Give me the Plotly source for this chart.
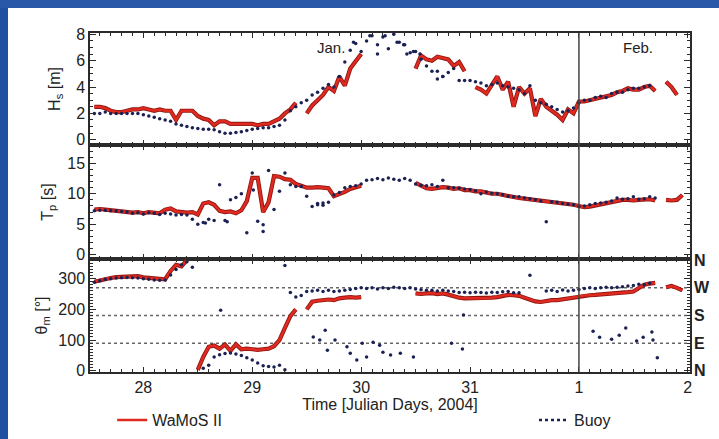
import plotly.graph_objects as go
from plotly.subplots import make_subplots

# ---------------- data (time in Julian days, 2004; 32 = 1 Feb) ----------------
T = [27.55, 27.60, 27.65, 27.70, 27.75, 27.80, 27.85, 27.90, 27.95, 28.00,
     28.05, 28.10, 28.15, 28.20, 28.25, 28.30, 28.35, 28.40, 28.45, 28.50,
     28.55, 28.60, 28.65, 28.70, 28.75, 28.80, 28.85, 28.90, 28.95, 29.00,
     29.05, 29.10, 29.15, 29.20, 29.25, 29.30, 29.35, 29.40, 29.45, 29.50,
     29.55, 29.60, 29.65, 29.70, 29.75, 29.80, 29.85, 29.90, 29.95, 30.00,
     30.05, 30.10, 30.15, 30.20, 30.25, 30.30, 30.35, 30.40, 30.45, 30.50,
     30.55, 30.60, 30.65, 30.70, 30.75, 30.80, 30.85, 30.90, 30.95, 31.00,
     31.05, 31.10, 31.15, 31.20, 31.25, 31.30, 31.35, 31.40, 31.45, 31.50,
     31.55, 31.60, 31.65, 31.70, 31.75, 31.80, 31.85, 31.90, 31.95, 32.00,
     32.05, 32.10, 32.15, 32.20, 32.25, 32.30, 32.35, 32.40, 32.45, 32.50,
     32.55, 32.60, 32.65, 32.70, 32.75, 32.80, 32.85, 32.90, 32.95]

N = None
wamos_hs = [2.5, 2.5, 2.4, 2.2, 2.1, 2.1, 2.2, 2.3, 2.3, 2.4,
            2.3, 2.2, 2.3, 2.2, 2.2, 1.5, 2.2, 2.2, 2.2, 1.8,
            1.6, 1.5, 1.1, 1.4, 1.4, 1.2, 1.2, 1.2, 1.2, 1.2,
            1.1, 1.2, 1.2, 1.4, 1.6, 2.0, 2.3, 2.8, N, 2.0,
            2.6, 3.0, 3.4, 4.0, 3.7, 4.8, 4.1, 5.4, 6.0, 6.5,
            N, N, N, N, N, N, N, N, N, 5.4,
            6.4, 6.1, 6.0, 6.3, 6.2, 6.1, 5.6, 5.9, 5.2, N,
            4.0, 3.8, 3.5, 4.1, 4.8, 3.8, 4.4, 2.5, 4.0, 3.5,
            3.9, 1.8, 3.1, 2.5, 2.2, 1.9, 1.5, 2.3, 2.0, 2.9,
            2.9, 3.0, 3.1, 3.2, 3.3, 3.4, 3.6, 3.7, 3.9, 3.8,
            3.8, 4.0, 4.1, 3.7, N, 4.4, 4.0, 3.4, N]

buoy_hs = [2.0, 2.0, 2.1, 2.0, 2.0, 2.0, 2.0, 2.0, 2.0, 1.9,
           1.8, 1.7, 1.6, 1.5, 1.4, 1.2, 1.1, 1.0, 0.9, 0.85,
           0.8, 0.8, 0.75, 0.6, 0.5, 0.5, 0.55, 0.6, 0.7, 0.8,
           0.85, 0.9, 0.9, 1.0, 1.1, 1.5, 2.2, 2.5, 2.8, 3.0,
           3.4, 3.6, 3.9, 4.2, 4.0, 4.8, 5.9, 6.8, 7.3, 6.7,
           7.5, 7.9, 7.2, 7.8, 6.9, 8.0, 7.4, 7.2, 6.6, 6.7,
           6.1, 5.6, 5.2, 4.6, 4.8, 5.1, 5.4, 4.5, 4.5, 4.5,
           4.4, 4.3, 4.1, 4.2, 4.3, 4.1, 4.0, 3.9, 3.8, 3.5,
           4.1, 3.0, 2.8, 2.7, 2.5, 2.3, 2.1, 2.2, 2.4, 2.8,
           3.0, 3.0, 3.2, 3.3, 3.2, 3.5, 3.6, 3.6, 3.8, 3.9,
           3.9, 4.0, 4.1, N, N, N, N, N, N]
buoy_hs_extra_t = [29.93, 30.08, 30.15, 30.22, 30.33, 30.39, 30.42, 30.48, 30.54, 30.70, 30.75]
buoy_hs_extra_v = [7.4, 7.9, 6.5, 7.9, 7.4, 7.2, 6.5, 6.7, 6.5, 5.2, 4.8]

wamos_tp = [7.4, 7.5, 7.4, 7.3, 7.3, 7.1, 7.0, 6.9, 7.0, 6.8,
            7.0, 6.9, 6.8, 7.4, 7.6, 7.1, 7.0, 6.9, 7.0, 6.6,
            8.4, 8.6, 8.2, 7.2, 7.0, 7.1, 6.8, 7.3, 8.8, 12.6,
            12.6, 7.0, 8.6, 12.9, 12.8, 12.4, 12.3, 11.6, 11.3, 11.0,
            11.0, 11.1, 11.0, 10.9, 9.6, 9.9, 10.3, 10.8, 11.1, 11.3,
            N, N, N, N, N, N, N, N, N, 11.8,
            11.3, 10.9, 10.8, 11.0, 11.1, 11.0, 10.8, 10.9, 10.6, 10.6,
            10.4, 10.4, 10.2, 10.0, 10.0, 9.8, 9.6, 9.5, 9.3, 9.2,
            9.1, 9.0, 8.8, 8.7, 8.6, 8.6, 8.5, 8.3, 8.2, 8.0,
            7.8, 7.9, 8.1, 8.3, 8.5, 8.7, 8.8, 9.0, 9.0, 8.9,
            9.0, 9.0, 9.1, 8.9, N, 9.0, 8.9, 9.0, 9.8]

buoy_tp = [7.2, 7.3, 7.3, 7.2, 7.2, 7.1, 7.0, 6.8, 6.9, 6.7,
           6.9, 6.8, 6.6, 6.8, 6.7, 6.5, 6.6, 6.5, 5.8, 5.0,
           5.3, 5.8, 5.6, 11.5, 5.6, 9.0, 9.4, 10.0, 3.6, 13.4,
           5.5, 3.8, 13.8, 7.4, 10.4, 13.4, 11.5, 11.2, 11.2, 9.6,
           7.9, 8.4, 8.1, 8.6, 9.8, 10.2, 11.0, 11.2, 11.3, 11.6,
           12.2, 12.3, 12.5, 12.3, 12.6, 12.4, 12.2, 12.5, 12.2, 11.6,
           11.4, 11.3, 11.5, 11.2, 12.2, 11.0, 11.0, 10.9, 10.8, 10.7,
           10.5, 10.0, 10.3, 10.1, 10.0, 9.9, 9.6, 9.5, 9.5, 9.3,
           9.2, 9.0, 8.8, 5.4, 8.7, 8.6, 8.4, 8.3, 8.2, 7.9,
           8.0, 8.2, 8.4, 8.5, 8.6, 8.8, 9.3, 9.1, 9.2, 9.5,
           9.1, 9.2, 9.5, 9.3, N, N, N, N, N]
buoy_tp_extra_t = [28.57, 28.77, 29.01, 29.10, 29.60, 29.65]
buoy_tp_extra_v = [5.2, 5.4, 10.6, 4.9, 8.2, 8.5]

wamos_dir = [290, 295, 300, 302, 305, 305, 307, 306, 308, 304,
             302, 300, 298, 298, 325, 345, 340, 360, N, 3,
             45, 78, 82, 72, 85, 65, 86, 70, 72, 70,
             68, 70, 72, 80, 100, 140, 178, 200, N, 200,
             225, 228, 230, 232, 230, 236, 238, 240, 238, 240,
             N, N, N, N, N, N, N, N, N, 252,
             250, 252, 253, 250, 252, 248, 242, 238, 236, 236,
             237, 235, 236, 238, 240, 245, 247, 246, 244, 238,
             232, 226, 224, 228, 230, 230, 233, 236, 240, 243,
             245, 246, 247, 248, 250, 252, 252, 254, 256, 258,
             270, 280, 284, 286, N, 272, 276, 270, 262]

buoy_dir = [288, 293, 298, 300, 302, 303, 304, 303, 302, 300,
            298, 296, 295, 296, 312, 330, 345, 355, 337, N,
            8, 18, 45, 52, 56, 58, 55, 50, 42, 35,
            25, 16, 14, 12, 18, 3, 255, 240, 245, 258,
            260, 262, 258, 262, 258, 260, 262, 265, 268, 270,
            268, 270, 266, 270, 268, 272, 270, 268, 270, 266,
            264, 262, 262, 260, 262, 260, 258, 255, 256, 254,
            256, 255, 253, 256, 255, 257, 258, 254, 254, N,
            N, N, N, 260, 262, 258, 263, 260, 262, 265,
            268, 270, 268, 270, 272, 270, 272, 274, 276, 278,
            282, 280, 285, N, N, N, N, N, N]
buoy_dir_extra_t = [28.71, 29.30, 29.56, 29.62, 29.67, 29.69, 29.76, 29.87, 29.90, 29.96,
                    30.01, 30.05, 30.11, 30.17, 30.20, 30.27, 30.36, 30.48, 30.83, 30.93,
                    30.94, 31.55, 32.13, 32.19, 32.30, 32.37, 32.43, 32.53, 32.59, 32.67,
                    32.68, 32.72]
buoy_dir_extra_v = [197, 343, 110, 100, 132, 67, 100, 78, 57, 35,
                    90, 45, 93, 83, 60, 51, 57, 45, 90, 71,
                    182, 311, 129, 109, 103, 116, 139, 97, 109, 126,
                    100, 42]

x_tickvals = [28, 29, 30, 31, 32, 33]
x_ticktext = ["28", "29", "30", "31", "1", "2"]
month_start = 32
direction_lines = [90, 180, 270]
compass_vals = [0, 90, 180, 270, 360]
compass_text = ["N", "E", "S", "W", "N"]

# ---------------- styling ----------------
RED = "#e0291f"
RED_EDGE = "#8e1713"
NAVY = "#1b2153"
AX = "#2b2b2b"
FONT = "Liberation Sans, Arial, sans-serif"
TXT = "#222"
FS = 16
BLUE_TOP = "#2a58a8"
BLUE_LEFT = "#2050a0"

# plot area spans 33..429 px vertically (396 px); panels end at 372 px
PH = 396.0
def frac(py):
    return (429.0 - py) / PH

fig = make_subplots(rows=3, cols=1, shared_xaxes=True, vertical_spacing=0)

panels = [(wamos_hs, buoy_hs, buoy_hs_extra_t, buoy_hs_extra_v),
          (wamos_tp, buoy_tp, buoy_tp_extra_t, buoy_tp_extra_v),
          (wamos_dir, buoy_dir, buoy_dir_extra_t, buoy_dir_extra_v)]
for r, (wv, bv, et, ev) in enumerate(panels, start=1):
    fig.add_trace(go.Scatter(x=T, y=wv, mode="lines", line=dict(color=RED_EDGE, width=4.2),
                             showlegend=False, hoverinfo="skip"), row=r, col=1)
    fig.add_trace(go.Scatter(x=T, y=wv, mode="lines", line=dict(color=RED, width=2.5),
                             name="WaMoS II", legendgroup="w", showlegend=(r == 1)),
                  row=r, col=1)
    fig.add_trace(go.Scatter(x=T, y=bv, mode="markers",
                             marker=dict(color=NAVY, size=3.5), showlegend=False),
                  row=r, col=1)
    fig.add_trace(go.Scatter(x=et, y=ev, mode="markers",
                             marker=dict(color=NAVY, size=3.5), showlegend=False),
                  row=r, col=1)

# legend-only entry for the buoy (second legend box at the right)
fig.add_trace(go.Scatter(x=[None], y=[None], mode="lines", name="Buoy", legend="legend2",
                         line=dict(color=NAVY, width=2.5, dash="dot")), row=3, col=1)

minor_x = dict(ticks="inside", dtick=0.1, ticklen=3, tickcolor=AX, showgrid=False)
for i in (1, 2, 3):
    fig.update_xaxes(range=[27.51, 33.02], tickvals=x_tickvals, ticktext=x_ticktext,
                     ticks="inside", ticklen=5, tickcolor=AX, showline=True, linecolor=AX,
                     linewidth=1.5, mirror="allticks", showgrid=False, zeroline=False,
                     minor=minor_x, showticklabels=(i == 3), automargin=False,
                     tickfont=dict(family=FONT, size=FS, color=TXT), row=i, col=1)

fig.update_xaxes(title=dict(text="Time [Julian Days, 2004]", standoff=0,
                            font=dict(family=FONT, size=FS, color=TXT)), row=3, col=1)

ycommon = dict(ticks="inside", ticklen=6, tickcolor=AX, showline=True, linecolor=AX,
               linewidth=1.5, mirror="allticks", showgrid=False, zeroline=False,
               automargin=False, tickfont=dict(family=FONT, size=FS, color=TXT))
fig.update_yaxes(range=[-0.4, 8.1], tickvals=[0, 2, 4, 6, 8],
                 minor=dict(ticks="inside", dtick=0.5, ticklen=3, tickcolor=AX),
                 title=dict(text="H<sub>s</sub> [m]", standoff=12, font=dict(family=FONT, size=FS, color=TXT)),
                 domain=[frac(145), 1.0], row=1, col=1, **ycommon)
fig.update_yaxes(range=[-0.7, 18.0], tickvals=[0, 5, 10, 15],
                 minor=dict(ticks="inside", dtick=1, ticklen=3, tickcolor=AX),
                 title=dict(text="T<sub>p</sub> [s]", standoff=10, font=dict(family=FONT, size=FS, color=TXT)),
                 domain=[frac(259), frac(145)], row=2, col=1, **ycommon)
fig.update_yaxes(range=[-4, 364], tickvals=[0, 100, 200, 300],
                 minor=dict(ticks="inside", dtick=10, ticklen=3, tickcolor=AX),
                 title=dict(text="θ<sub>m</sub> [°]", standoff=7, font=dict(family=FONT, size=FS, color=TXT)),
                 domain=[frac(372), frac(259)], row=3, col=1, **ycommon)

shapes = []
# 1 February marker across all three panels
shapes.append(dict(type="line", xref="x", yref="paper", x0=month_start, x1=month_start,
                   y0=frac(372), y1=1, line=dict(color="#444", width=1.5), layer="above"))
for d in direction_lines:
    shapes.append(dict(type="line", xref="x3 domain", yref="y3", x0=0, x1=1, y0=d, y1=d,
                       line=dict(color="#666", width=1.5, dash="dot"), layer="below"))
fig.update_layout(shapes=shapes)

ann = [
    dict(text="Jan.", x=29.72, y=7.0, xref="x", yref="y", showarrow=False,
         font=dict(family=FONT, size=15, color=TXT)),
    dict(text="Feb.", x=32.54, y=7.0, xref="x", yref="y", showarrow=False,
         font=dict(family=FONT, size=15, color=TXT)),
]
for v, t in zip(compass_vals, compass_text):
    ann.append(dict(text="<b>" + t + "</b>", x=1.003, xanchor="left", y=v, xref="paper",
                    yref="y3", showarrow=False, font=dict(family=FONT, size=16, color=TXT)))
fig.update_layout(annotations=ann)

fig.update_layout(
    width=719, height=439,
    margin=dict(l=90, r=29, t=33, b=10, autoexpand=False),
    paper_bgcolor="rgba(0,0,0,0)", plot_bgcolor="white",
    font=dict(family=FONT, size=FS, color=TXT),
    legend=dict(orientation="h", x=0.037, xanchor="left", y=frac(403), yanchor="top",
                bgcolor="rgba(0,0,0,0)", font=dict(family=FONT, size=FS, color=TXT)),
    legend2=dict(orientation="h", x=0.740, xanchor="left", y=frac(403), yanchor="top",
                 bgcolor="rgba(0,0,0,0)", font=dict(family=FONT, size=FS, color=TXT)),
)

# page styling: no body margin, white slide with the blue photographic frame at top/left
page_css = ("document.body.style.margin='0px';"
            "document.body.style.overflow='hidden';"
            "document.body.style.background='linear-gradient(to bottom, " + BLUE_TOP + " 0px, "
            + BLUE_TOP + " 8px, rgba(0,0,0,0) 8px), linear-gradient(to right, " + BLUE_LEFT
            + " 0px, " + BLUE_LEFT + " 8px, #ffffff 8px)';")

fig.write_html("out.html", config={"displayModeBar": False}, post_script=page_css)
